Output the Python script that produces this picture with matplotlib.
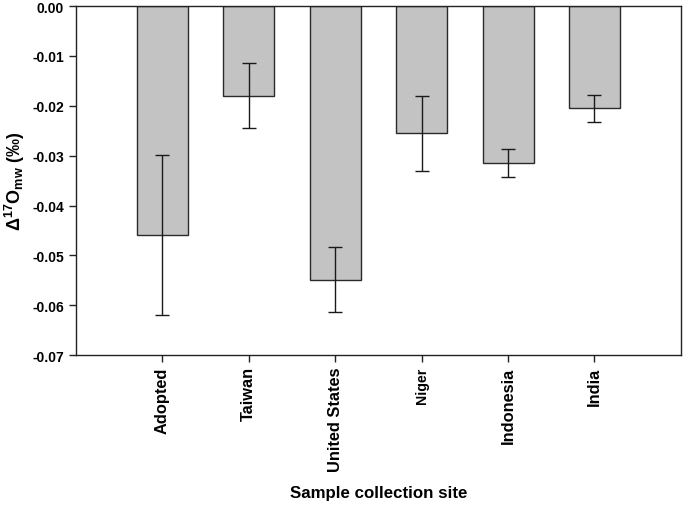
import matplotlib
matplotlib.use("Agg")
import matplotlib.pyplot as plt
import numpy as np

sites = ["Adopted", "Taiwan", "United States", "Niger", "Indonesia", "India"]
values = [-0.0459, -0.0180, -0.0549, -0.0255, -0.0315, -0.0205]
errors = [0.0161, 0.0065, 0.0065, 0.0075, 0.0028, 0.0027]
yticks = [0.00, -0.01, -0.02, -0.03, -0.04, -0.05, -0.06, -0.07]

plt.rcParams['font.family'] = ['Liberation Sans', 'DejaVu Sans']
plt.rcParams['font.weight'] = 'bold'
plt.rcParams['mathtext.fontset'] = 'custom'
plt.rcParams['mathtext.rm'] = 'Liberation Sans:bold'
plt.rcParams['mathtext.bf'] = 'Liberation Sans:bold'
plt.rcParams['mathtext.it'] = 'Liberation Sans:bold'

fig = plt.figure(figsize=(6.85, 5.06), dpi=100)
ax = fig.add_axes([0.111, 0.296, 0.883, 0.690])

x = np.arange(1, len(sites) + 1)
ax.bar(x, values, width=0.59, color='#c3c3c3', edgecolor='#2a2a2a', linewidth=1.0, zorder=2)
ax.errorbar(x, values, yerr=errors, fmt='none', ecolor='#1a1a1a', elinewidth=1.0,
            capsize=5, capthick=1.0, zorder=3)

ax.set_xlim(0, 7)
ax.set_ylim(-0.07, 0.0)
ax.set_yticks(yticks)
ax.set_yticklabels([f"{v:.2f}" for v in yticks], fontsize=10, fontweight='bold')
ax.set_xticks(x)
ax.set_xticklabels(sites, rotation=90, fontsize=11.8, fontweight='bold')
for lbl in ax.get_xticklabels():
    if lbl.get_text() == "Niger":
        lbl.set_fontsize(10.2)

for s in ax.spines.values():
    s.set_linewidth(1.0)
    s.set_color('#222222')
ax.tick_params(axis='both', direction='out', length=5, width=1.0, colors='#222222')
ax.tick_params(axis='x', pad=3)
ax.tick_params(axis='both', labelcolor='black')

ax.set_xlabel("Sample collection site", fontsize=12.2, fontweight='bold', va='center')
ax.set_ylabel(r"$\Delta^{17}$O$_{mw}$ (‰)", fontsize=13, fontweight='bold', va='center')
# place labels (axes fraction coordinates)
ax.xaxis.set_label_coords(0.5, (506 - 494 - 0.296 * 506) / (0.690 * 506))
ax.yaxis.set_label_coords((15 - 0.111 * 685) / (0.883 * 685), 0.5)

fig.savefig("out.png", dpi=100)
